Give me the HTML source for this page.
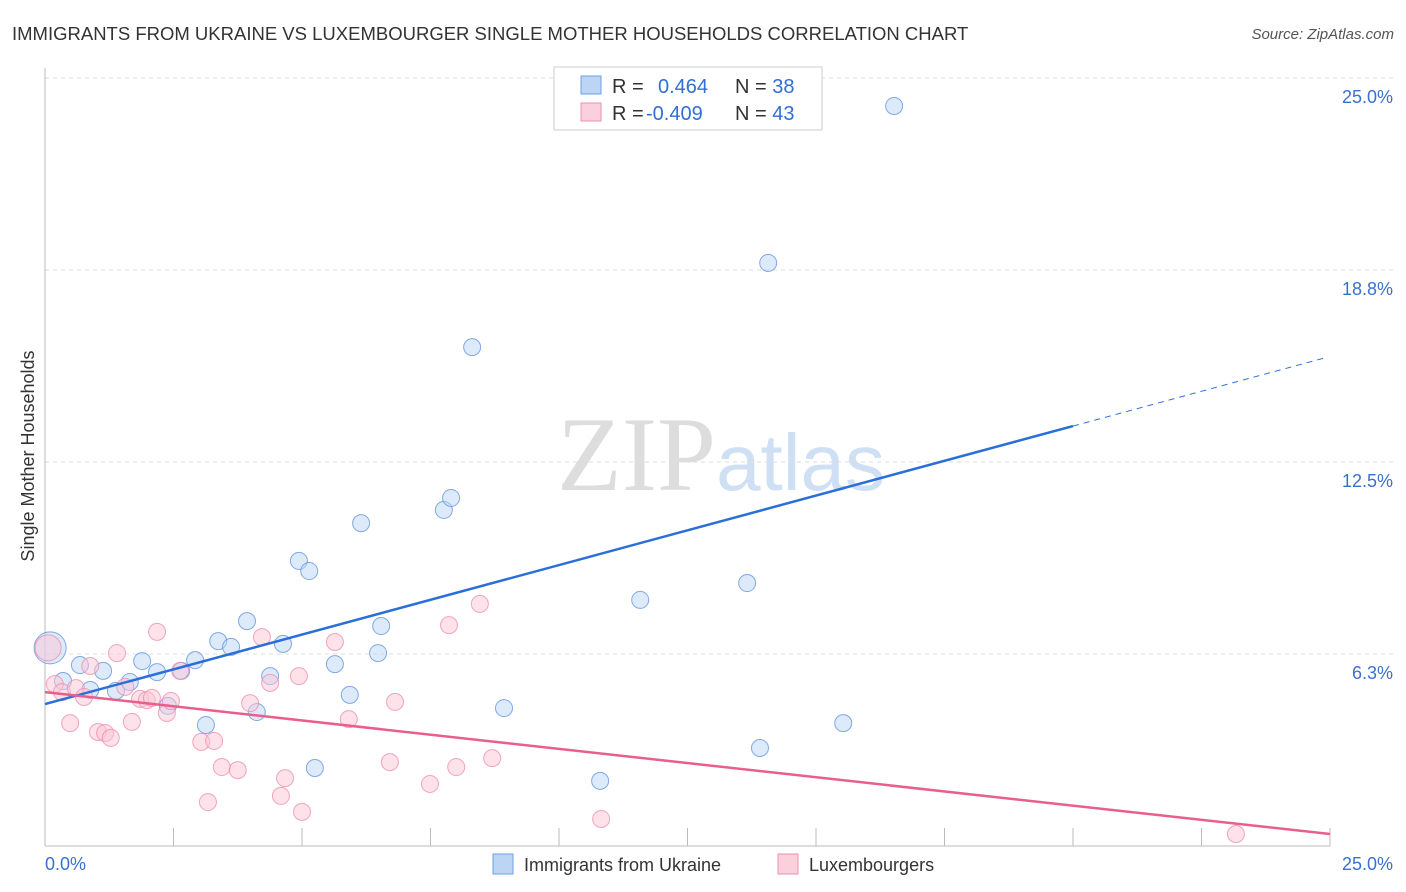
<!DOCTYPE html>
<html><head><meta charset="utf-8"><style>
body{margin:0;background:#fff;font-family:"Liberation Sans",sans-serif}
svg{display:block}
</style></head><body>
<svg id="c" width="1406" height="892">
<text x="12" y="40" font-size="18.5" fill="#333">IMMIGRANTS FROM UKRAINE VS LUXEMBOURGER SINGLE MOTHER HOUSEHOLDS CORRELATION CHART</text>
<text x="1394" y="39" font-size="15" fill="#555" text-anchor="end" font-style="italic">Source: ZipAtlas.com</text>
<text x="716" y="490" font-size="106" fill="#ddd" text-anchor="end" font-family="Liberation Serif,serif">ZIP</text>
<text x="716" y="490" font-size="80" fill="#cfe0f5">atlas</text>
<text transform="translate(34,456) rotate(-90)" font-size="18" fill="#333" text-anchor="middle">Single Mother Households</text>
<g id="grid"></g><g id="marks"></g>
<g>
<rect x="554" y="67" width="268" height="63" fill="#fff" stroke="#ccc"/>
<rect x="581" y="76" width="20" height="18" fill="#bcd5f5" stroke="#6f9fe0"/>
<rect x="581" y="103" width="20" height="18" fill="#fbd0dd" stroke="#ee8fae"/>
<text x="612" y="93" font-size="20" fill="#333">R = <tspan fill="#2f6fd6" x="658">0.464</tspan><tspan x="735">N = </tspan><tspan fill="#2f6fd6">38</tspan></text>
<text x="612" y="120" font-size="20" fill="#333">R = <tspan fill="#2f6fd6" x="646">-0.409</tspan><tspan x="735">N = </tspan><tspan fill="#2f6fd6">43</tspan></text>
</g>
<g>
<rect x="493" y="854" width="20" height="20" fill="#bcd5f5" stroke="#6f9fe0"/>
<text x="524" y="871" font-size="18" fill="#333">Immigrants from Ukraine</text>
<rect x="778" y="854" width="20" height="20" fill="#fbd0dd" stroke="#ee8fae"/>
<text x="809" y="871" font-size="18" fill="#333">Luxembourgers</text>
</g>
</svg>
<script>
const yTicks=[6.3,12.5,18.8,25.0];
const yTickVals=[6.25,12.5,18.75,25];
const xLabels=["0.0%","25.0%"];
const blueX=[0.10,0.35,0.68,0.88,1.13,1.38,1.65,1.89,2.18,2.39,2.65,2.92,3.13,3.37,3.62,3.93,4.12,4.38,4.63,4.94,5.14,5.25,5.64,5.93,6.15,6.48,6.54,7.76,7.90,8.31,8.93,10.80,11.58,13.66,13.91,14.07,15.53,16.52];
const blueY=[6.45,5.37,5.89,5.08,5.70,5.05,5.34,6.02,5.66,4.56,5.70,6.05,3.94,6.67,6.48,7.32,4.36,5.53,6.58,9.28,8.95,2.54,5.92,4.92,10.51,6.28,7.16,10.94,11.33,16.24,4.49,2.12,8.01,8.56,3.19,18.98,4.00,24.09];
const pinkX=[0.06,0.19,0.33,0.49,0.60,0.76,0.88,1.03,1.17,1.28,1.40,1.56,1.69,1.85,1.98,2.08,2.18,2.37,2.45,2.63,3.04,3.17,3.29,3.44,3.75,3.99,4.22,4.38,4.59,4.67,4.94,5.00,5.64,5.91,6.71,6.81,7.49,7.86,8.00,8.46,8.70,10.82,23.17];
const pinkY=[6.45,5.27,5.01,4.00,5.14,4.85,5.86,3.71,3.68,3.52,6.28,5.18,4.04,4.79,4.75,4.82,6.97,4.33,4.72,5.70,3.39,1.43,3.42,2.57,2.47,4.65,6.80,5.31,1.63,2.21,5.53,1.11,6.64,4.13,2.73,4.69,2.02,7.19,2.57,7.88,2.86,0.88,0.39];
const blueTrend=[4.62,13.67,15.89]; const blueTrendX=[0,20.0,24.9];
const pinkTrend=[5.01,0.39]; const pinkTrendX=[0,25];
const X=v=>45+v/25*1285, Y=v=>846-v/25*768;
const NS="http://www.w3.org/2000/svg";
function mk(t,a,p){const e=document.createElementNS(NS,t);for(const k in a)e.setAttribute(k,a[k]);p.appendChild(e);return e;}
const g=document.getElementById('grid'), m=document.getElementById('marks');
yTickVals.forEach((v,i)=>{
 const l=mk('line',{x1:45,x2:1393,y1:Y(v),y2:Y(v),stroke:'#ddd','stroke-dasharray':'4,4'},g);
 
 
 const t=mk('text',{x:1393,y:Y(v)+25,'font-size':18,fill:'#3a70d0','text-anchor':'end'},g);
 t.textContent=yTicks[i].toFixed(1)+'%';
 
 
});
const ax=mk('line',{x1:45,x2:45,y1:68,y2:846,stroke:'#bbb'},g);


const bx=mk('line',{x1:45,x2:1330,y1:846,y2:846,stroke:'#bbb'},g);


for(let i=1;i<=10;i++){const t=mk('line',{x1:X(i*2.5),x2:X(i*2.5),y1:828,y2:846,stroke:'#bbb'},g);
 
 }
[[45,'start'],[1393,'end']].forEach((p,i)=>{const t=mk('text',{x:p[0],y:870,'font-size':18,fill:'#3a70d0','text-anchor':p[1]},g);t.textContent=xLabels[i];
 
 });
function dots(xs,ys,fill,stroke,name){xs.forEach((x,i)=>{const c=mk('circle',{cx:X(x),cy:Y(ys[i]),r:i==0?(name=='ukraine-point'?16:13):8.5,fill:fill,'fill-opacity':0.5,stroke:stroke,'stroke-opacity':0.75,'stroke-width':1},m);
 
 });}
dots(blueX,blueY,'#bcd5f5','#5b8fdc','ukraine-point');
dots(pinkX,pinkY,'#fbc6d6','#ec8aab','luxembourger-point');
const b1=mk('line',{x1:X(blueTrendX[0]),y1:Y(blueTrend[0]),x2:X(blueTrendX[1]),y2:Y(blueTrend[1]),stroke:'#2a6fd8','stroke-width':2.5},m);


const b2=mk('line',{x1:X(blueTrendX[1]),y1:Y(blueTrend[1]),x2:X(blueTrendX[2]),y2:Y(blueTrend[2]),stroke:'#2a6fd8','stroke-width':1,'stroke-dasharray':'6,5'},m);


const p1=mk('line',{x1:X(pinkTrendX[0]),y1:Y(pinkTrend[0]),x2:X(pinkTrendX[1]),y2:Y(pinkTrend[1]),stroke:'#e85f8c','stroke-width':2.5},m);


</script>
</body></html>
